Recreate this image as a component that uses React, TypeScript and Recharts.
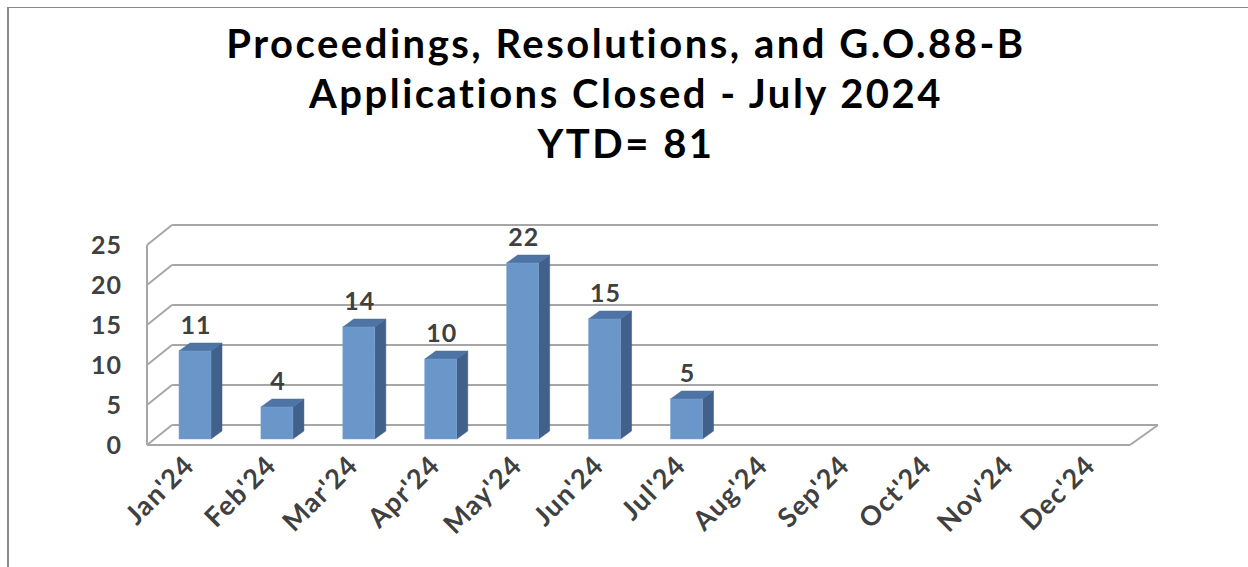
import React from 'react';
import { BarChart, Bar, XAxis, YAxis, CartesianGrid, LabelList } from 'recharts';

const months = ["Jan'24", "Feb'24", "Mar'24", "Apr'24", "May'24", "Jun'24", "Jul'24", "Aug'24", "Sep'24", "Oct'24", "Nov'24", "Dec'24"];
const closed = [11, 4, 14, 10, 22, 15, 5, null, null, null, null, null];
const yTicks = [0, 5, 10, 15, 20, 25];
const titleLines = ['Proceedings, Resolutions, and G.O.88-B', 'Applications Closed - July 2024', 'YTD= 81'];

const data = months.map((m, i) => ({ name: m, value: closed[i] }));

const W = 1248;
const H = 567;
const PLOT_LEFT = 147;
const PLOT_RIGHT = 1130;
const PLOT_TOP = 239;
const PLOT_BOTTOM = 439;
const Y_AXIS_W = 60;

// 3d look: back wall sits up/right of the bars, front edge sits below
const BACK_DX = 25;
const BACK_DY = -14;
const FRONT_DY = 6;
const BAR_SHIFT = 7;
const DEPTH_X = 11;
const DEPTH_Y = 8;

const FONT = 'Lato, "DejaVu Sans", sans-serif';
const TEXT = '#404040';
const GRID = '#a6a6a6';

const GridLine = (props: any) => {
  const { y1 } = props;
  const isFloor = Math.abs(y1 - PLOT_BOTTOM) < 1;
  const backY = y1 + BACK_DY;
  const frontY = y1 + FRONT_DY;
  return (
    <g>
      <line x1={PLOT_LEFT + BACK_DX} y1={backY} x2={PLOT_RIGHT + 28} y2={backY} stroke={GRID} strokeWidth={2} />
      <line x1={PLOT_LEFT} y1={frontY} x2={PLOT_LEFT + BACK_DX} y2={backY} stroke={GRID} strokeWidth={2} />
      {isFloor && (
        <g>
          <line x1={PLOT_LEFT} y1={frontY} x2={PLOT_RIGHT} y2={frontY} stroke={GRID} strokeWidth={2} />
          <line x1={PLOT_RIGHT} y1={frontY} x2={PLOT_RIGHT + 28} y2={backY} stroke={GRID} strokeWidth={2} />
          <line x1={PLOT_LEFT} y1={frontY} x2={PLOT_LEFT} y2={PLOT_TOP + FRONT_DY} stroke={GRID} strokeWidth={2} />
        </g>
      )}
    </g>
  );
};

const Bar3D = (props: any) => {
  const { x, y, width, height } = props;
  if (!height || height <= 0) return null;
  const fx = x + BAR_SHIFT;
  const top = `${fx},${y} ${fx + width},${y} ${fx + width + DEPTH_X},${y - DEPTH_Y} ${fx + DEPTH_X},${y - DEPTH_Y}`;
  const side = `${fx + width},${y} ${fx + width + DEPTH_X},${y - DEPTH_Y} ${fx + width + DEPTH_X},${y + height - DEPTH_Y} ${fx + width},${y + height}`;
  return (
    <g>
      <polygon points={side} fill="#41618a" stroke="#3c5a80" strokeWidth={0.5} />
      <polygon points={top} fill="#4e74a5" stroke="#4a6e9c" strokeWidth={0.5} />
      <rect x={fx} y={y} width={width} height={height} fill="#6a96c9" stroke="#7ba3d2" strokeWidth={0.5} />
    </g>
  );
};

const ValueLabel = (props: any) => {
  const { x, y, width, value } = props;
  if (value === null || value === undefined) return null;
  return (
    <text x={x + BAR_SHIFT + width / 2 + 1} y={y - 17} textAnchor="middle" fontFamily={FONT} fontWeight={700} fontSize={25} letterSpacing={1} fill={TEXT}>
      {value}
    </text>
  );
};

const YTick = (props: any) => {
  const { y, payload } = props;
  return (
    <text x={122} y={y + FRONT_DY + 9} textAnchor="end" fontFamily={FONT} fontWeight={700} fontSize={25} letterSpacing={1} fill={TEXT}>
      {payload.value}
    </text>
  );
};

const XTick = (props: any) => {
  const { x, y, payload } = props;
  const ax = x + 8;
  const ay = y + 20;
  return (
    <text x={ax} y={ay} textAnchor="end" transform={`rotate(-45, ${ax}, ${ay})`} fontFamily={FONT} fontWeight={700} fontSize={27} letterSpacing={1.2} fill={TEXT}>
      {payload.value}
    </text>
  );
};

export default function App() {
  return (
    <div style={{ position: 'absolute', left: 0, top: 0, width: W, height: H, background: '#fff', overflow: 'hidden' }}>
      <div style={{ position: 'absolute', left: 7, top: 7, width: W, height: H, borderTop: '1px solid #888', borderLeft: '2px solid #888' }} />
      <div style={{ position: 'absolute', left: 2, top: 18, width: W, textAlign: 'center', fontFamily: FONT, fontWeight: 700, fontSize: 40, letterSpacing: 2.5, lineHeight: '50px', color: '#000' }}>
        {titleLines.map((t) => (
          <div key={t}>{t}</div>
        ))}
      </div>
      <div style={{ position: 'absolute', left: 0, top: 0 }}>
        <BarChart
          width={W}
          height={H}
          data={data}
          margin={{ top: PLOT_TOP, right: W - PLOT_RIGHT, left: PLOT_LEFT - Y_AXIS_W, bottom: H - PLOT_BOTTOM - 80 }}
          barCategoryGap={0}
        >
          <CartesianGrid vertical={false} horizontal={(p: any) => <GridLine key={p.key} {...p} />} />
          <XAxis dataKey="name" interval={0} axisLine={false} tickLine={false} tick={<XTick />} height={80} />
          <YAxis domain={[0, 25]} ticks={yTicks} width={Y_AXIS_W} axisLine={false} tickLine={false} tick={<YTick />} />
          <Bar dataKey="value" barSize={32} shape={<Bar3D />} isAnimationActive={false}>
            <LabelList dataKey="value" content={<ValueLabel />} />
          </Bar>
        </BarChart>
      </div>
    </div>
  );
}
